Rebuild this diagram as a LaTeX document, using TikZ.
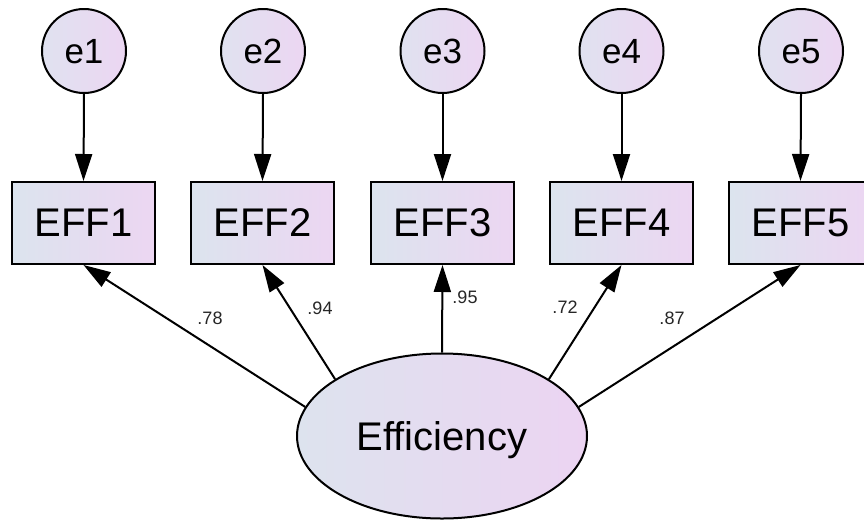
\documentclass[tikz,border=0pt]{standalone}
\usepackage{fontspec}
\setmainfont{Liberation Sans}
\usetikzlibrary{arrows.meta,shapes.geometric}
\definecolor{circL}{RGB}{224,226,240}
\definecolor{circR}{RGB}{236,214,242}
\definecolor{boxL}{RGB}{220,228,238}
\definecolor{boxR}{RGB}{236,214,242}
\definecolor{ellL}{RGB}{221,227,238}
\definecolor{ellR}{RGB}{236,212,242}
\begin{document}
\begin{tikzpicture}[x=1pt,y=-1pt,
  errc/.style={circle, draw=black, line width=2pt, minimum size=84pt, inner sep=0pt,
    left color=circL, right color=circR, text depth=0pt, font=\fontsize{35}{40}\selectfont},
  obs/.style={rectangle, draw=black, line width=2pt, minimum width=143pt, minimum height=82pt,
    inner sep=0pt, left color=boxL, right color=boxR, text depth=0pt, font=\fontsize{40}{44}\selectfont},
  lat/.style={ellipse, draw=black, line width=2pt, minimum width=290pt, minimum height=165pt,
    inner sep=0pt, left color=ellL, right color=ellR, text depth=0pt, font=\fontsize{40}{44}\selectfont},
  arr/.style={line width=2pt, -{Triangle[length=27pt,width=17pt]}},
  coef/.style={font=\fontsize{18}{20}\selectfont, inner sep=0pt, text=black!85}
]
\useasboundingbox (0,0) rectangle (864,520);
\fill[white] (0,0) rectangle (864,520);
\clip (0,0) rectangle (864,520);

% error terms
\node[errc] (e1) at (84,51) {e1};
\node[errc] (e2) at (263,51) {e2};
\node[errc] (e3) at (442.5,51) {e3};
\node[errc] (e4) at (621.5,51) {e4};
\node[errc] (e5) at (801,51) {e5};

% observed variables
\node[obs] (x1) at (83.5,223) {EFF1};
\node[obs] (x2) at (262.5,223) {EFF2};
\node[obs] (x3) at (442.5,223) {EFF3};
\node[obs] (x4) at (621.5,223) {EFF4};
\node[obs] (x5) at (800.5,223) {EFF5};

% latent variable
\node[lat] (eff) at (442,436) {Efficiency};

% error arrows
\foreach \i in {1,...,5} {
  \draw[arr] (e\i.south) -- (x\i.north);
}

% loadings
\draw[arr] (eff.168) -- (x1.south);
\draw[arr] (eff.152) -- (x2.south);
\draw[arr] (eff.north) -- (x3.south);
\draw[arr] (eff.28) -- (x4.south);
\draw[arr] (eff.12) -- (x5.south);

% coefficients
\node[coef] (c1) at (210,318) {.78};
\node[coef] (c2) at (320,308) {.94};
\node[coef] (c3) at (465,297) {.95};
\node[coef] (c4) at (565,307) {.72};
\node[coef] (c5) at (672,318) {.87};
\end{tikzpicture}
\end{document}
